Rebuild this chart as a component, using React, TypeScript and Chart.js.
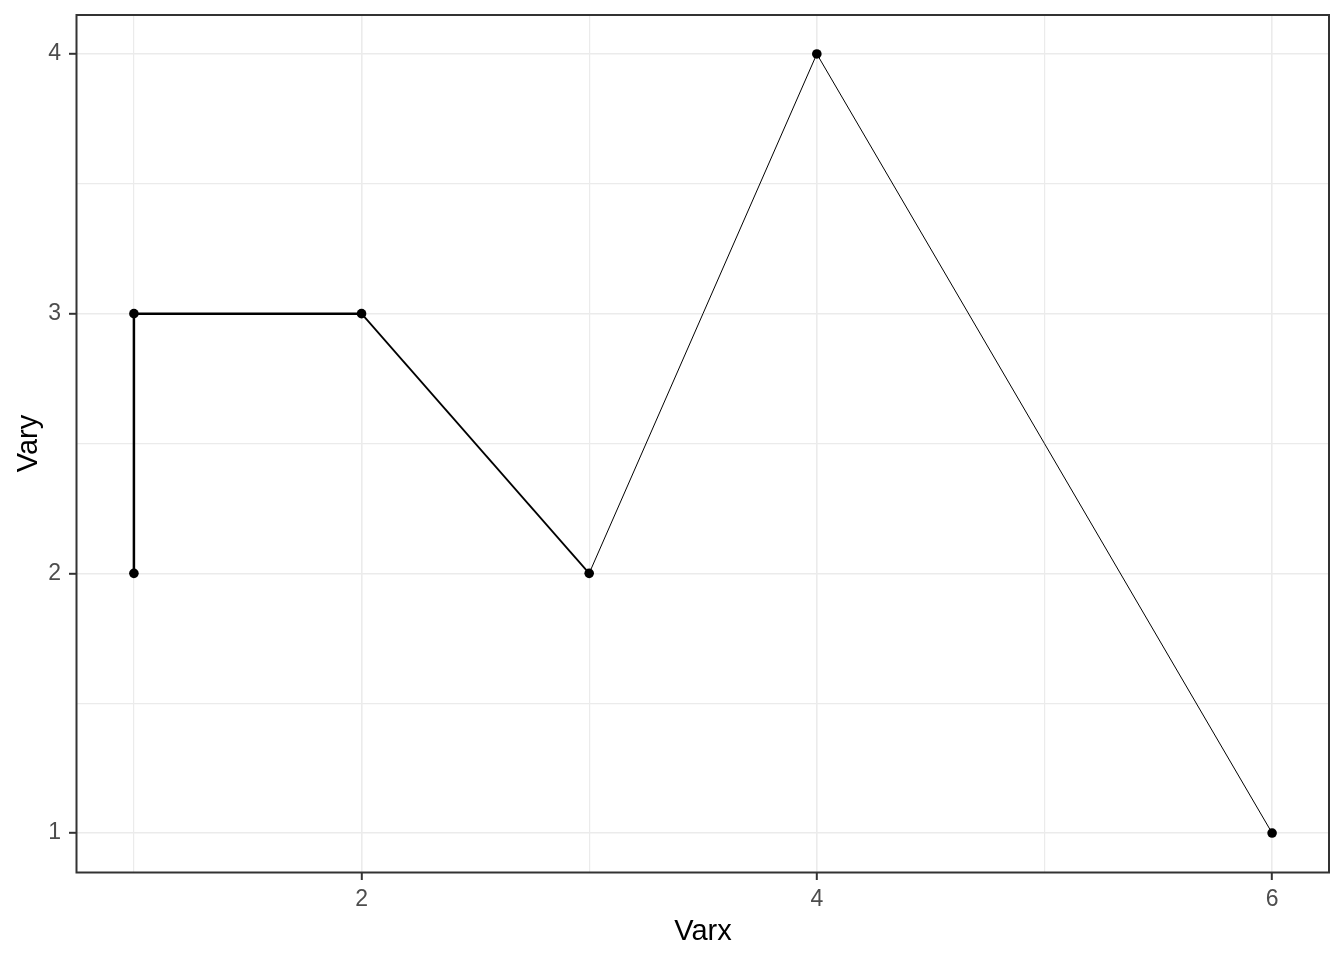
import React, { useEffect, useRef } from "react";
import { Chart, registerables } from "chart.js";

Chart.register(...registerables);

const varx = [1, 1, 2, 3, 4, 6];
const vary = [2, 3, 3, 2, 4, 1];
const segmentWidths = [2.5, 2.5, 1.8, 1, 1];
const xTicks = [1, 2, 3, 4, 5, 6];
const xMajor = [2, 4, 6];
const yTicks = [1, 1.5, 2, 2.5, 3, 3.5, 4];
const yMajor = [1, 2, 3, 4];
const xTitle = "Varx";
const yTitle = "Vary";

const FONT = "'Liberation Sans', Arial, sans-serif";

const panelBorder = {
  id: "panelBorder",
  afterDatasetsDraw(chart: any) {
    const { ctx, chartArea } = chart;
    ctx.save();
    ctx.strokeStyle = "#333333";
    ctx.lineWidth = 2;
    ctx.strokeRect(chartArea.left - 0.5, chartArea.top, chartArea.right - chartArea.left + 0.5, chartArea.bottom - chartArea.top + 0.5);
    ctx.restore();
  },
};

export default function App() {
  const ref = useRef<HTMLCanvasElement>(null);
  useEffect(() => {
    if (!ref.current) return;
    const data = varx.map((x, i) => ({ x, y: vary[i] }));
    const chart = new Chart(ref.current, {
      type: "line",
      data: {
        datasets: [
          {
            data,
            borderColor: "#000000",
            backgroundColor: "#000000",
            pointBackgroundColor: "#000000",
            pointBorderWidth: 0,
            pointRadius: 4.8,
            borderWidth: 1,
            tension: 0,
            segment: {
              borderWidth: (ctx: any) => segmentWidths[ctx.p0DataIndex],
            },
          },
        ],
      },
      options: {
        responsive: false,
        animation: false,
        layout: { padding: { top: 15, right: 15, left: 0, bottom: 0 } },
        plugins: { legend: { display: false }, tooltip: { enabled: false } },
        scales: {
          x: {
            type: "linear",
            min: 0.75,
            max: 6.25,
            afterBuildTicks: (s: any) => {
              s.ticks = xTicks.map((v) => ({ value: v }));
            },
            afterFit: (s: any) => {
              s.height = 88;
              s.paddingLeft = 0;
              s.paddingRight = 0;
            },
            grid: {
              color: "#EBEBEB",
              lineWidth: (c: any) => (c.tick && xMajor.includes(c.tick.value) ? 1.6 : 1.2),
              tickLength: 8,
              tickWidth: 2,
              tickColor: (c: any) => (c.tick && xMajor.includes(c.tick.value) ? "#333333" : "rgba(0,0,0,0)"),
            },
            border: { display: false },
            ticks: {
              autoSkip: false,
              maxRotation: 0,
              padding: 6,
              color: "#4D4D4D",
              font: { family: FONT, size: 23 },
              callback: (v: any) => (xMajor.includes(Number(v)) ? String(v) : ""),
            },
            title: {
              display: true,
              text: xTitle,
              color: "#000000",
              font: { family: FONT, size: 29 },
              padding: { top: 0, bottom: 11 },
            },
          },
          y: {
            type: "linear",
            min: 0.85,
            max: 4.15,
            afterBuildTicks: (s: any) => {
              s.ticks = yTicks.map((v) => ({ value: v }));
            },
            afterFit: (s: any) => {
              s.width = 77;
              s.paddingTop = 0;
              s.paddingBottom = 0;
            },
            grid: {
              color: "#EBEBEB",
              lineWidth: (c: any) => (c.tick && yMajor.includes(c.tick.value) ? 1.6 : 1.2),
              tickLength: 8,
              tickWidth: 2,
              tickColor: (c: any) => (c.tick && yMajor.includes(c.tick.value) ? "#333333" : "rgba(0,0,0,0)"),
            },
            border: { display: false },
            ticks: {
              autoSkip: false,
              padding: 8,
              color: "#4D4D4D",
              font: { family: FONT, size: 23 },
              callback: (v: any) => (yMajor.includes(Number(v)) ? String(v) : ""),
            },
            title: {
              display: true,
              text: yTitle,
              color: "#000000",
              font: { family: FONT, size: 29 },
              padding: { top: 12, bottom: 0 },
            },
          },
        },
      } as any,
      plugins: [panelBorder],
    });
    return () => chart.destroy();
  }, []);
  return (
    <div style={{ position: "absolute", left: 0, top: 0, width: 1344, height: 960, background: "#ffffff" }}>
      <canvas ref={ref} width={1344} height={960} style={{ display: "block" }} />
    </div>
  );
}
